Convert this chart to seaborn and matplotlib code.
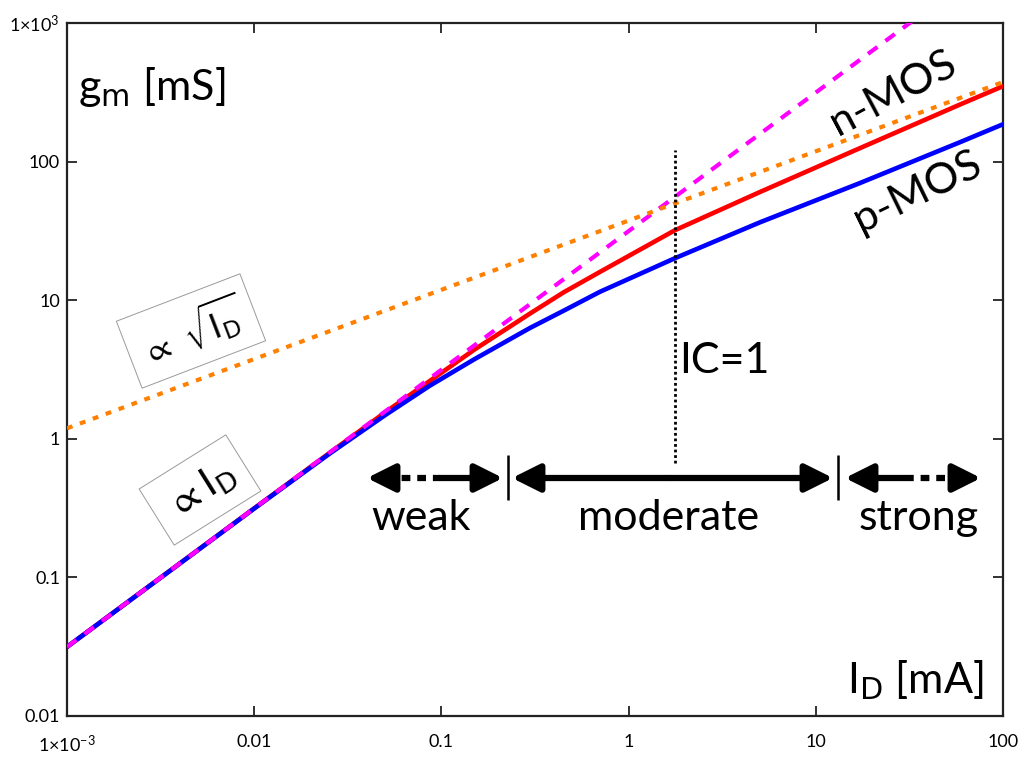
import numpy as np
import pandas as pd
import matplotlib
matplotlib.use("Agg")
import matplotlib.pyplot as plt
import seaborn as sns

# ---------------- data ----------------
id_ma = [0.001, 0.01, 0.0254, 0.05, 0.0869, 0.15, 0.297, 0.45, 0.703,
         1.77, 5.04, 17.2, 58.9, 100]
gm_nmos = [0.0315, 0.315, 0.795, 1.55, 2.62, 4.4, 8.0, 11.4, 16.0,
           32.0, 60.4, 125, 258, 350]
gm_pmos = [0.0315, 0.314, 0.785, 1.48, 2.42, 3.75, 6.3, 8.4, 11.5,
           20.1, 36.5, 70, 138, 186]

weak_id = [0.001, 40]
weak_gm = [0.0315, 1260]
strong_id = [0.001, 100]
strong_gm = [1.19, 375]

ic1_id = [1.77, 1.77]
ic1_gm = [0.668, 121]

x_ticks = [0.001, 0.01, 0.1, 1, 10, 100]
x_ticklabels = [r"1$\times$10$^{-3}$", "0.01", "0.1", "1", "10", "100"]
y_ticks = [0.01, 0.1, 1, 10, 100, 1000]
y_ticklabels = ["0.01", "0.1", "1", "10", "100", r"1$\times$10$^{3}$"]

# ---------------- style ----------------
sns.set_style("ticks")
plt.rcParams["font.family"] = ["Lato", "DejaVu Sans"]
plt.rcParams["mathtext.fontset"] = "dejavusans"
plt.rcParams["mathtext.default"] = "regular"
plt.rcParams["text.color"] = "black"
plt.rcParams["xtick.color"] = "black"
plt.rcParams["ytick.color"] = "black"

W, H = 1026, 760
fig = plt.figure(figsize=(W / 100, H / 100), dpi=100)
L, R, T, B = 67, 1003, 23, 716
ax = fig.add_axes([L / W, 1 - B / H, (R - L) / W, (B - T) / H])


def ax_x(px):
    return (px - L) / (R - L)


def ax_y(py):
    return (B - py) / (B - T)


df_n = pd.DataFrame({"id": id_ma, "gm": gm_nmos})
df_p = pd.DataFrame({"id": id_ma, "gm": gm_pmos})
df_w = pd.DataFrame({"id": weak_id, "gm": weak_gm})
df_s = pd.DataFrame({"id": strong_id, "gm": strong_gm})

sns.lineplot(data=df_n, x="id", y="gm", ax=ax, color="#ff0000", lw=3.3, zorder=3)
sns.lineplot(data=df_p, x="id", y="gm", ax=ax, color="#0000ff", lw=3.3, zorder=4)
sns.lineplot(data=df_w, x="id", y="gm", ax=ax, color="#ff00ff", lw=3,
             linestyle=(0, (2.8, 2.4)), zorder=5)
sns.lineplot(data=df_s, x="id", y="gm", ax=ax, color="#ff8000", lw=3,
             linestyle=(0, (1.4, 1.9)), zorder=5)
ax.plot(ic1_id, ic1_gm, color="black", lw=2, linestyle=(0, (1, 1)), zorder=6)

ax.set_xscale("log")
ax.set_yscale("log")
ax.set_xlim(0.001, 100)
ax.set_ylim(0.01, 1000)
ax.set_xticks(x_ticks)
ax.set_xticklabels(x_ticklabels)
ax.set_yticks(y_ticks)
ax.set_yticklabels(y_ticklabels)
ax.minorticks_off()
ax.set_xlabel("")
ax.set_ylabel("")
ax.tick_params(which="major", direction="in", length=7, width=1.3,
               top=True, right=True, labelsize=13, color="#222222",
               labelcolor="black")
ax.tick_params(axis="x", pad=13)
ax.tick_params(axis="y", pad=5)
for s in ax.spines.values():
    s.set_visible(True)
    s.set_linewidth(1.6)
    s.set_color("#222222")

# ---------------- annotations ----------------
big = 31
ax.text(ax_x(78), ax_y(100), r"g$_\mathrm{m}$ [mS]", transform=ax.transAxes,
        fontsize=big, ha="left", va="baseline")
ax.text(ax_x(984), ax_y(693), r"I$_\mathrm{D}$ [mA]", transform=ax.transAxes,
        fontsize=big, ha="right", va="baseline")
ax.text(ax_x(679), ax_y(373), "IC=1", transform=ax.transAxes,
        fontsize=big, ha="left", va="baseline")
ax.text(ax_x(893), ax_y(93), "n-MOS", transform=ax.transAxes, fontsize=big,
        ha="center", va="center", rotation=28, rotation_mode="anchor")
ax.text(ax_x(917), ax_y(192), "p-MOS", transform=ax.transAxes, fontsize=big,
        ha="center", va="center", rotation=26, rotation_mode="anchor")

box = dict(boxstyle="square,pad=0.35", fc="white", ec="#9a9a9a", lw=0.7)
ax.text(ax_x(191), ax_y(331), r"$\propto\ \sqrt{\mathrm{I}_\mathrm{D}}$",
        transform=ax.transAxes, fontsize=24, ha="center", va="center",
        rotation=21, rotation_mode="anchor", bbox=box, zorder=2)
ax.text(ax_x(200), ax_y(490), r"$\propto\mathrm{I}_\mathrm{D}$",
        transform=ax.transAxes, fontsize=28, ha="center", va="center",
        rotation=32, rotation_mode="anchor", bbox=box, zorder=2)

# region labels
ylab = ax_y(530)
ax.text(ax_x(421), ylab, "weak", transform=ax.transAxes, fontsize=big,
        ha="center", va="baseline")
ax.text(ax_x(669), ylab, "moderate", transform=ax.transAxes, fontsize=big,
        ha="center", va="baseline")
ax.text(ax_x(919), ylab, "strong", transform=ax.transAxes, fontsize=big,
        ha="center", va="baseline")

# region bars
for bx in (508, 838):
    ax.plot([ax_x(bx), ax_x(bx)], [ax_y(455), ax_y(500)], color="black",
            lw=1.8, transform=ax.transAxes, solid_capstyle="butt")

ya = ax_y(478)
alw = 4.5
ms = 28


def arrow(x0, x1):
    ax.annotate("", xy=(ax_x(x1), ya), xytext=(ax_x(x0), ya),
                xycoords="axes fraction", textcoords="axes fraction",
                arrowprops=dict(arrowstyle="-|>,head_length=0.6,head_width=0.3",
                                lw=alw, color="black", mutation_scale=ms,
                                shrinkA=0, shrinkB=0))


# moderate
arrow(670, 833)
arrow(670, 512)
# weak
arrow(440, 503)
arrow(386, 367)
ax.plot([ax_x(386), ax_x(440)], [ya, ya], color="black", lw=alw,
        linestyle=(0, (1.4, 1.1)), transform=ax.transAxes)
# strong
arrow(905, 845)
arrow(962, 981)
ax.plot([ax_x(905), ax_x(962)], [ya, ya], color="black", lw=alw,
        linestyle=(0, (1.4, 1.1)), transform=ax.transAxes)

fig.savefig("out.png", dpi=100)
